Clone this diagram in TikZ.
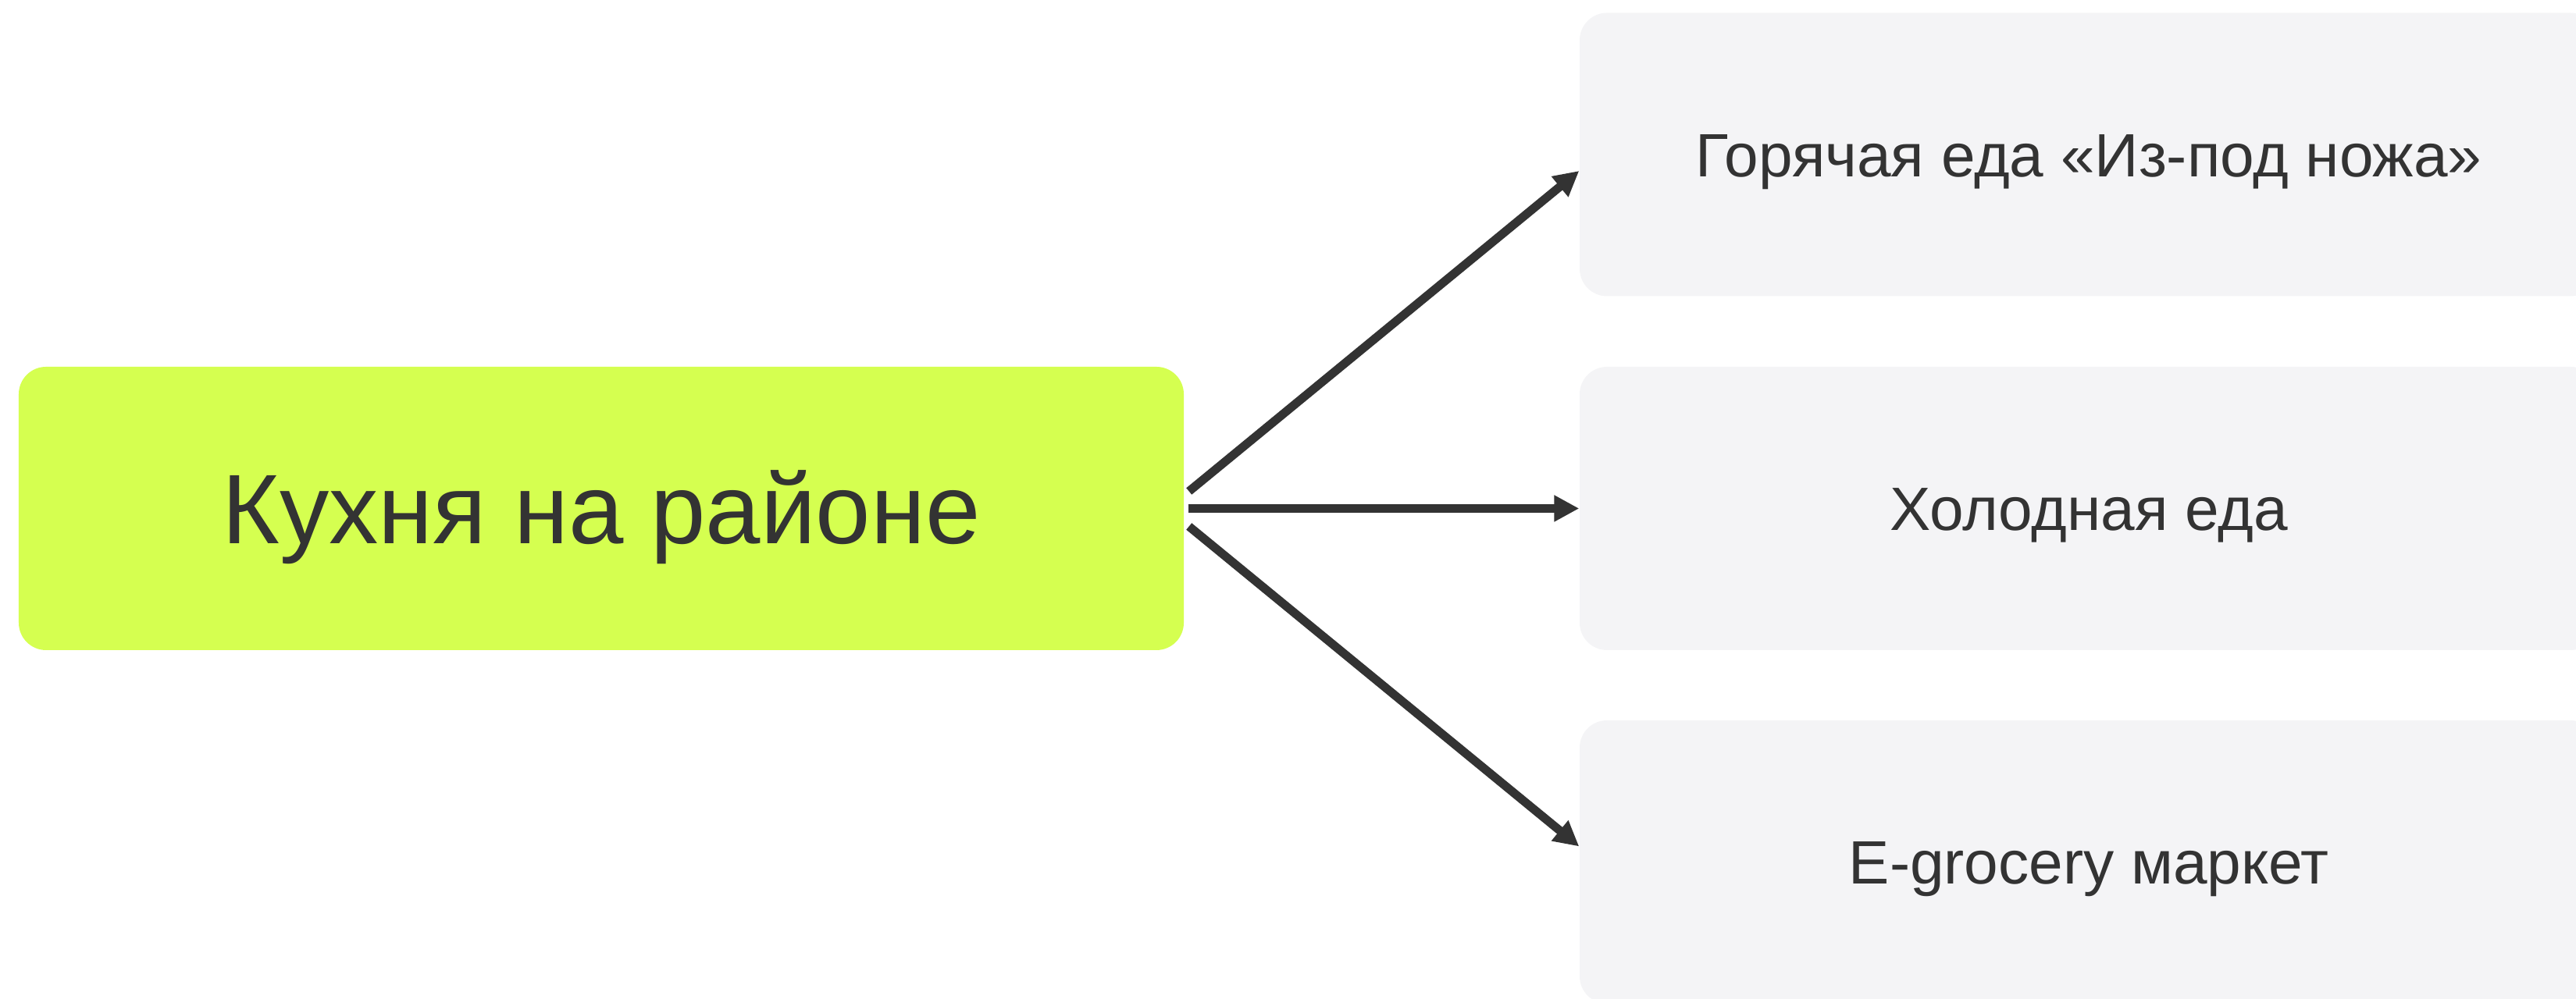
\documentclass[tikz,border=0pt]{standalone}
\usepackage{fontspec}
\setmainfont{Liberation Sans}
\usetikzlibrary{arrows.meta}
\definecolor{lime}{HTML}{D5FF50}
\definecolor{boxgray}{HTML}{F4F4F6}
\definecolor{ink}{HTML}{333333}
\tikzset{
	kitchen/.style={fill=lime, rounded corners=0.35cm, minimum width=14.92cm, minimum height=3.63cm, text=ink, font=\fontsize{36}{40}\selectfont, text height=25.8pt, text depth=0pt},
	product/.style={fill=boxgray, rounded corners=0.35cm, minimum width=13.04cm, minimum height=3.63cm, text=ink, font=\fontsize{22.3}{26}\selectfont, text height=16pt, text depth=0pt},
	link/.style={draw=ink, line width=0.11cm, -{Triangle[length=0.32cm, width=0.32cm]}}
}
\begin{document}
\begin{tikzpicture}
	\useasboundingbox (0,0) rectangle (32.99,12.80);
	\node[kitchen] (main) at (7.70,6.285) {Кухня на районе};
	\node[product] (hot) at (26.75,10.82) {Горячая еда «Из-под ножа»};
	\node[product] (cold) at (26.75,6.285) {Холодная еда};
	\node[product] (grocery) at (26.75,1.755) {E-grocery маркет};
	
	\draw[link] ([shift={(0.06,0.22)}]main.east) -- ([yshift=-0.21cm]hot.west);
	\draw[link] ([xshift=0.05cm]main.east) -- (cold.west);
	\draw[link] ([shift={(0.06,-0.23)}]main.east) -- ([yshift=0.20cm]grocery.west);
\end{tikzpicture}
\end{document}
